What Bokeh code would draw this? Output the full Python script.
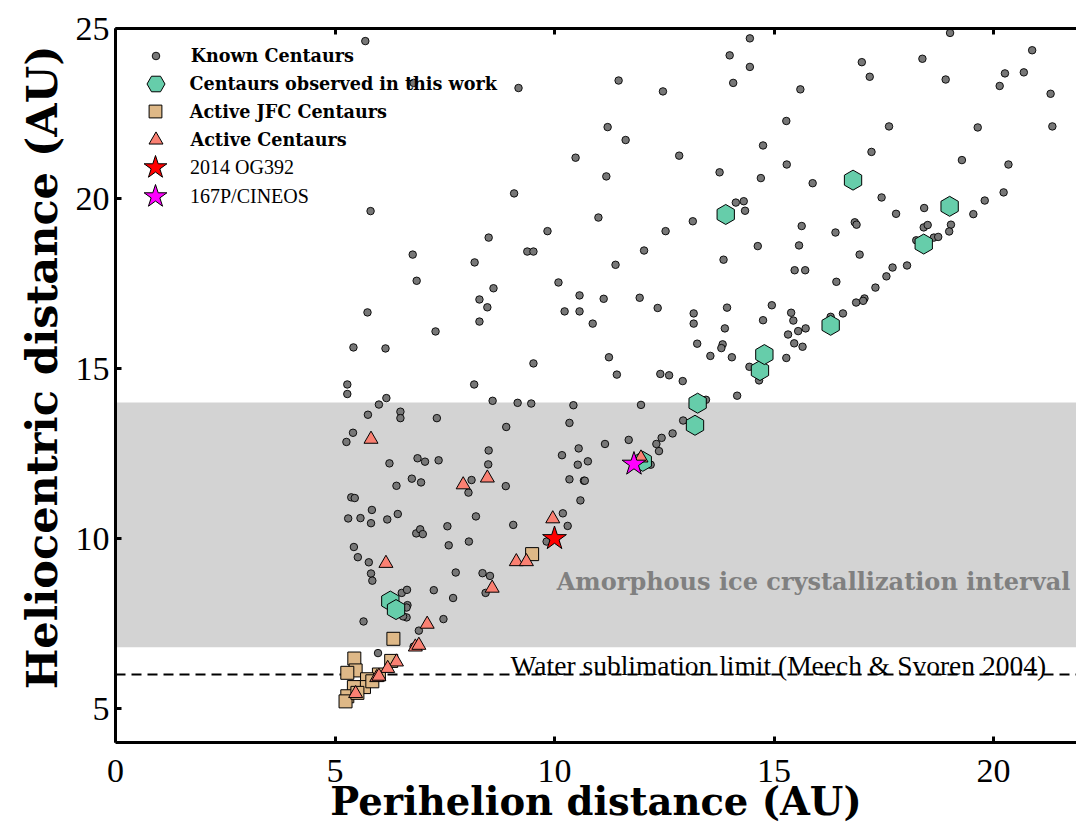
import numpy as np
from bokeh.plotting import figure
from bokeh.models import (Range1d, LinearAxis, FixedTicker, Span, BoxAnnotation,
                          Legend, LegendItem, Label, Title)
from bokeh.embed import file_html
from bokeh.resources import INLINE

# ---- data: perihelion distance q (AU) and current heliocentric distance r (AU) ----
known_q = [5.69, 6.79, 9.18, 9.08, 5.81, 11.21, 10.48, 11.18, 11.00, 9.84, 8.50, 9.38, 9.52,
           6.77, 8.18, 6.86, 10.09, 10.57, 11.12, 8.29, 8.61, 8.47, 10.23, 10.57, 5.74, 8.29,
           10.87, 7.29, 5.42, 6.15, 11.24, 9.52, 5.28, 8.17, 6.17,
           14.45, 13.99, 14.45, 11.46, 12.47, 14.07, 15.60, 17.00, 17.18, 18.38, 19.01, 18.91,
           20.88, 20.26, 20.69, 20.14, 21.30, 21.34, 19.64, 17.62, 15.28, 11.62, 12.84, 14.75,
           17.22, 20.34, 19.28, 13.76, 15.29, 14.70, 15.88, 17.45, 17.78, 18.42, 19.80, 20.23,
           19.54, 14.13, 14.31, 14.34, 13.15, 12.53, 12.04, 11.39, 13.85, 14.63, 15.57, 15.63,
           16.40, 16.84, 16.88, 16.95, 15.47, 15.71, 16.42, 18.41, 18.50, 18.24, 18.64, 18.74,
           19.03, 18.99, 18.03, 17.70, 17.56, 17.31, 17.06, 17.03, 16.87, 16.57, 16.29, 11.94,
           12.35, 13.17, 13.17, 13.93, 13.88, 13.25, 13.83, 13.80, 13.55, 14.04, 14.44, 14.66,
           14.95, 14.75, 15.39, 15.44, 15.32, 15.55, 15.72, 15.46, 15.65, 15.28, 11.42, 12.41,
           12.61, 12.92, 14.16,
           5.28, 8.59, 6.00, 5.75, 6.49, 6.49, 7.32, 5.41, 5.26, 8.50, 8.49, 6.24, 6.88, 7.05,
           7.36, 6.75, 6.96, 6.40, 8.11, 8.04, 5.37, 5.45, 5.84, 5.30, 5.58, 5.82, 6.19, 6.43,
           8.21, 7.56, 6.85, 6.94, 7.00, 7.59, 8.05, 5.43, 5.52, 5.77, 5.82, 5.85, 7.75, 8.36,
           8.53, 8.43, 6.52, 6.64, 7.25, 7.69, 6.65, 6.63, 6.63, 6.55, 5.65, 7.47, 6.91, 6.79,
           5.98,
           9.16, 9.47, 10.43, 11.97, 8.90, 10.34, 10.17, 10.55, 11.15, 11.69, 10.53, 10.76,
           10.34, 10.67, 10.69, 8.89, 10.59, 10.19, 10.30, 9.82, 9.06, 12.19, 12.32, 12.44,
           12.38, 12.69, 12.93, 13.45]
known_r = [24.63, 23.40, 23.25, 20.15, 19.63, 22.10, 21.20, 20.65, 19.44, 19.04, 18.85, 18.44,
           18.44, 18.35, 18.12, 17.58, 17.53, 17.15, 17.05, 17.03, 17.36, 16.80, 16.68, 16.68,
           16.65, 16.38, 16.32, 16.09, 15.62, 15.59, 15.33, 15.15, 14.53, 14.53, 14.13,
           24.71, 24.21, 23.87, 23.47, 23.15, 23.40, 23.21, 24.01, 23.58, 24.11, 24.87, 23.50,
           24.36, 23.68, 23.71, 23.31, 23.08, 22.12, 22.09, 22.12, 22.28, 21.72, 21.26, 21.56,
           21.37, 21.00, 21.13, 20.77, 21.00, 20.60, 20.45, 20.03, 19.55, 19.72, 19.94, 20.18,
           19.54, 19.88, 19.92, 19.64, 19.33, 19.04, 18.47, 18.05, 18.20, 18.60, 18.62, 19.19,
           19.00, 19.30, 19.23, 18.35, 17.89, 17.89, 17.55, 19.15, 19.22, 18.77, 18.85, 18.87,
           19.23, 19.03, 18.03, 17.97, 17.71, 17.38, 17.06, 16.99, 16.94, 16.62, 16.52, 17.08,
           16.78, 16.62, 16.32, 16.79, 16.18, 15.73, 15.71, 15.60, 15.37, 15.33, 15.05, 14.65,
           16.86, 16.42, 16.64, 16.41, 16.00, 16.10, 16.18, 15.74, 15.64, 15.31, 14.82, 14.84,
           14.80, 14.63, 14.20,
           14.25, 14.05, 13.94, 13.64, 13.73, 13.54, 13.54, 13.11, 12.84, 12.59, 12.18, 12.21,
           12.36, 12.26, 12.30, 11.76, 11.65, 11.55, 11.72, 11.35, 11.21, 11.19, 10.84, 10.59,
           10.60, 10.45, 10.56, 10.72, 10.65, 10.36, 10.15, 10.27, 10.13, 9.80, 9.91, 9.75,
           9.45, 9.30, 8.97, 8.76, 9.00, 8.98, 8.90, 8.40, 8.40, 8.49, 8.48, 8.25, 8.04, 7.97,
           7.68, 7.71, 7.56, 7.63, 7.29, 6.82, 6.63,
           13.99, 13.97, 13.92, 13.93, 13.28, 13.40, 12.45, 12.65, 12.78, 12.90, 12.17, 12.27,
           11.74, 11.70, 11.70, 11.54, 11.12, 10.74, 10.37, 9.91, 10.40, 12.17, 12.78, 12.96,
           12.57, 13.09, 13.47, 14.08]

observed_q = [6.26, 6.39, 12.01, 13.20, 13.26, 14.68, 14.78, 16.29, 13.90, 16.80, 18.41, 19.00]
observed_r = [8.16, 7.91, 12.27, 13.33, 13.98, 14.94, 15.41, 16.27, 19.53, 20.54, 18.66, 19.77]

jfc_q = [6.33, 9.49, 5.44, 5.47, 5.28, 6.28, 6.00, 5.73, 5.66, 5.43, 5.28, 5.24, 5.51, 5.85]
jfc_r = [7.05, 9.54, 6.47, 6.12, 6.05, 6.40, 6.00, 5.86, 5.63, 5.63, 5.36, 5.21, 5.46, 5.80]

active_q = [5.82, 7.92, 8.47, 6.16, 8.58, 9.96, 9.13, 9.36, 7.10, 6.83, 6.91, 6.40, 6.20,
            5.95, 6.00, 5.47, 11.97]
active_r = [12.92, 11.58, 11.78, 9.27, 8.54, 10.58, 9.32, 9.32, 7.48, 6.81, 6.86, 6.37, 6.18,
            5.91, 5.95, 5.44, 12.37]

og392_q, og392_r = [10.0], [10.0]
cineos_q, cineos_r = [11.81], [12.19]

crystallization_low = 6.8
crystallization_high = 14.0
water_limit = 6.0

x_ticks = [0, 5, 10, 15, 20]
y_ticks = [5, 10, 15, 20, 25]

SERIF = "Liberation Serif"
SERIF_BOLD = "DejaVu Serif"

p = figure(width=1076, height=831, output_backend="svg", toolbar_location=None,
           x_range=Range1d(0, 21.89), y_range=Range1d(4, 25),
           min_border_left=115, min_border_right=0, min_border_top=28, min_border_bottom=89)
p.outline_line_color = None
p.grid.visible = False
p.background_fill_color = "white"
p.border_fill_color = "white"


def style_axis(ax, ticks):
    ax.ticker = FixedTicker(ticks=ticks)
    ax.axis_line_width = 3
    ax.axis_line_color = "black"
    ax.major_tick_line_width = 3
    ax.major_tick_in = 6
    ax.major_tick_out = 0
    ax.minor_tick_line_color = None
    ax.major_label_text_font = SERIF
    ax.major_label_text_font_size = "34px"
    ax.major_label_text_color = "black"
    ax.axis_label_text_font = SERIF_BOLD
    ax.axis_label_text_font_style = "bold"
    ax.axis_label_text_font_size = "38.5px"
    ax.axis_label_text_color = "black"


style_axis(p.xaxis[0], x_ticks)
style_axis(p.yaxis[0], y_ticks)
p.xaxis[0].axis_label = "Perihelion distance (AU)"
p.xaxis[0].major_label_standoff = 17
p.xaxis[0].axis_label_standoff = -6
p.yaxis[0].major_label_standoff = 6

# vertical axis title as a side title, anchored from the top of the frame
p.add_layout(Title(text="Heliocentric distance (AU)", align="right", offset=17,
                   standoff=12, text_font=SERIF_BOLD, text_font_style="bold",
                   text_font_size="43px", text_color="black"), "left")

# top spine with inward ticks, no labels
top = LinearAxis()
style_axis(top, x_ticks)
top.major_label_text_font_size = "1px"
top.major_label_text_color = None
top.major_label_standoff = 0
p.add_layout(top, "above")

# shaded crystallization interval and the water sublimation limit
p.add_layout(BoxAnnotation(bottom=crystallization_low, top=crystallization_high,
                           fill_color="#d3d3d3", fill_alpha=1.0, line_color=None,
                           level="underlay"))
p.add_layout(Span(location=water_limit, dimension="width", line_color="black",
                  line_width=2, line_dash="10 6", level="underlay"))

r_known = p.scatter(known_q, known_r, marker="circle", size=7.5, fill_color="#777777",
                    line_color="black", line_width=0.9)
r_obs = p.scatter(observed_q, observed_r, marker="hex", size=20, angle=np.pi / 6,
                  fill_color="#66CDAA", line_color="black", line_width=1)
r_jfc = p.scatter(jfc_q, jfc_r, marker="square", size=13, fill_color="#DEB887",
                  line_color="black", line_width=1)
r_act = p.scatter(active_q, active_r, marker="triangle", size=14, fill_color="#FA8072",
                  line_color="black", line_width=1)
r_og = p.scatter(og392_q, og392_r, marker="star", size=25, fill_color="red",
                 line_color="black", line_width=1)
r_cin = p.scatter(cineos_q, cineos_r, marker="star", size=25, fill_color="magenta",
                  line_color="black", line_width=1)

p.add_layout(Label(x=10.05, y=8.74, text="Amorphous ice crystallization interval",
                   text_font=SERIF_BOLD, text_font_style="bold", text_font_size="24px",
                   text_color="#808080", text_baseline="alphabetic"))
p.add_layout(Label(x=9.0, y=6.27, text="Water sublimation limit (Meech & Svoren 2004)",
                   text_font=SERIF, text_font_size="27.5px", text_color="black",
                   text_baseline="alphabetic"))

# legend: one entry per key so each marker keeps its own size
FRAME_H = 714
entries = [
    (r_known, "Known Centaurs", 7.5, 55, True),
    (r_obs, "Centaurs observed in this work", 18, 83, True),
    (r_jfc, "Active JFC Centaurs", 13, 111, True),
    (r_act, "Active Centaurs", 14, 139, True),
    (r_og, "2014 OG392", 24, 167, False),
    (r_cin, "167P/CINEOS", 24, 196, False),
]
for rend, text, size, row, bold in entries:
    box = size / 0.4
    h = max(box, 22)
    centre = row - 28
    leg = Legend(items=[LegendItem(label=text, renderers=[rend])],
                 location=(40 - box / 2, FRAME_H - centre - h / 2),
                 glyph_width=int(round(box)), glyph_height=int(round(box)),
                 label_standoff=int(round(35 - box / 2)), label_height=20,
                 padding=0, margin=0, spacing=0,
                 border_line_color=None, background_fill_alpha=0,
                 label_text_font=SERIF_BOLD if bold else SERIF,
                 label_text_font_style="bold" if bold else "normal",
                 label_text_font_size="17.6px" if bold else "20px",
                 label_text_color="black")
    p.add_layout(leg)

open("out.html", "w").write(file_html(p, INLINE))
